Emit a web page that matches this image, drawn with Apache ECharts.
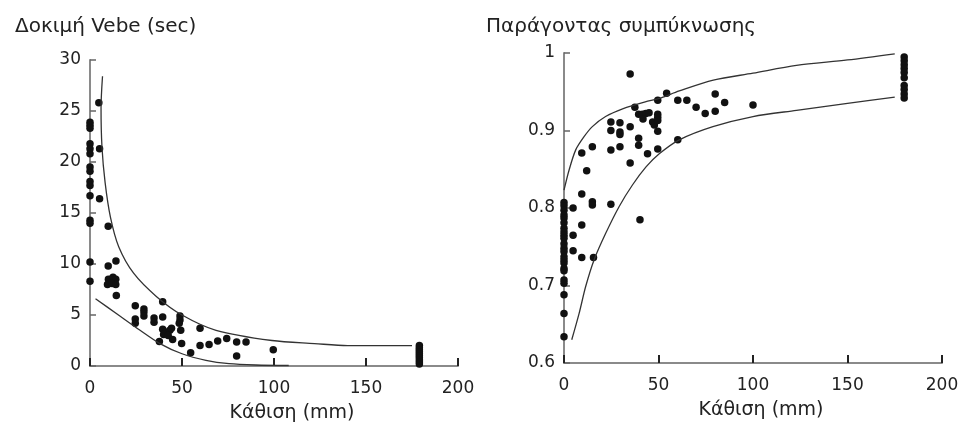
<!DOCTYPE html>
<html>
<head>
<meta charset="utf-8">
<script src="https://cdn.jsdelivr.net/npm/echarts@6/dist/echarts.min.js"></script>
<style>html,body{margin:0;padding:0;background:#fff}#c{width:962px;height:428px}</style>
</head>
<body>
<div id="c"></div>
<script>
// ---- Left panel: Vebe test (sec) vs slump (mm)
const vebeTitle = 'Δοκιμή Vebe (sec)';
const cfTitle = 'Παράγοντας συμπύκνωσης';
const slumpName = 'Κάθιση (mm)';
const xTicks = [0, 50, 100, 150, 200];
const vebeTicks = [0, 5, 10, 15, 20, 25, 30];
const cfTicks = [0.6, 0.7, 0.8, 0.9, 1];

const vebePoints = [
  [0,23.9],[0,23.6],[0,23.3],[0,21.8],[0,21.3],[0,20.8],[0,19.5],[0,19.1],[0,18.1],[0,17.7],[0,16.7],[0,14.3],[0,14.0],[0,10.2],[0,8.3],
  [4.8,25.8],[5.2,21.3],[5.2,16.4],[9.9,13.7],[9.9,9.8],[14.1,10.3],
  [10,8.5],[12.5,8.7],[14,8.5],[9.5,8.0],[12,8.1],[14,8.0],[14.3,6.9],
  [24.6,5.9],[24.6,4.6],[24.6,4.2],
  [29.3,5.6],[29.3,5.3],[29.3,4.9],
  [34.8,4.7],[34.8,4.3],
  [39.5,6.3],[39.5,4.8],[37.7,2.4],
  [39.5,3.6],[41.3,3.3],[43.4,3.5],[40,3.1],[42.5,3.0],[44.3,3.7],[44.9,2.6],
  [48.9,4.9],[48.9,4.5],[48.5,4.2],[49.3,3.5],[49.8,2.2],
  [54.7,1.3],[59.8,3.7],[59.8,2.0],[64.7,2.1],[69.4,2.45],[74.3,2.7],[79.7,2.35],[84.8,2.35],[79.7,0.98],[99.6,1.6],
  [179,2.0],[179,1.8],[179,1.6],[179,1.4],[179,1.2],[179,1.0],[179,0.8],[179,0.6],[179,0.4],[179,0.2]
];
const vebeUpper = [[6.8,28.4],[6.0,25.3],[6.5,21.5],[8.2,18.0],[11.1,14.6],[15.6,11.7],[23.7,9.1],[36.2,6.8],[50,5.0],[68.5,3.5],[98.9,2.5],[122,2.2],[140,2.0],[175,2.0]];
const vebeLower = [[3,6.6],[14.7,5.1],[27.2,3.5],[38,2.2],[50,1.2],[63,0.56],[75.6,0.23],[90,0.1],[108,0.05]];

// ---- Right panel: compacting factor vs slump (mm)
const cfPoints = [
  [0,0.807],[0,0.803],[0,0.797],[0,0.791],[0,0.787],[0,0.781],[0,0.774],[0,0.769],[0,0.765],[0,0.761],[0,0.754],[0,0.748],[0,0.744],[0,0.737],[0,0.733],[0,0.729],[0,0.722],[0,0.719],[0,0.707],[0,0.703],[0,0.688],[0,0.664],[0,0.634],
  [4.8,0.800],[4.8,0.765],[4.8,0.745],[9.4,0.871],[9.4,0.818],[9.4,0.778],[9.4,0.736],[12,0.848],[15,0.879],[15,0.808],[15,0.804],[15.6,0.736],
  [24.8,0.911],[24.8,0.900],[24.8,0.875],[24.8,0.805],[29.6,0.910],[29.6,0.898],[29.6,0.895],[29.6,0.879],
  [35,0.973],[35,0.905],[35,0.858],[37.5,0.930],[39.5,0.921],[41.5,0.921],[43.3,0.922],[45,0.923],[39.5,0.890],[39.5,0.881],[40.2,0.785],[41.8,0.915],[44.2,0.870],
  [46.9,0.911],[47.8,0.907],[49.6,0.921],[49.6,0.917],[49.6,0.913],[49.6,0.939],[49.6,0.899],[49.6,0.876],
  [54.3,0.948],[60.2,0.939],[60.2,0.888],[65,0.939],[69.9,0.930],[74.7,0.922],[80,0.947],[80,0.925],[85,0.936],[100,0.933],
  [180,0.995],[180,0.990],[180,0.985],[180,0.980],[180,0.975],[180,0.968],[180,0.958],[180,0.953],[180,0.947],[180,0.942]
];
const cfUpper = [[0,0.823],[2.7,0.849],[6.2,0.875],[10.6,0.892],[15,0.905],[22,0.918],[31,0.928],[43,0.937],[50,0.941],[61,0.951],[79,0.965],[100,0.974],[123,0.984],[150,0.991],[175,0.999]];
const cfLower = [[4.1,0.630],[8,0.664],[11.5,0.699],[15.9,0.733],[22,0.767],[29.2,0.802],[36.3,0.830],[43.4,0.853],[50.4,0.870],[61,0.888],[78.8,0.905],[100,0.918],[123,0.926],[150,0.935],[175,0.943]];

const FONT = 'DejaVu Sans';
const axisColor = '#8a8a8a';
const textColor = '#222';

function xAxisCfg(gi, shift) {
  return {
    type: 'value', gridIndex: gi, min: xTicks[0], max: xTicks[xTicks.length-1], interval: xTicks[1]-xTicks[0],
    name: slumpName, nameLocation: 'middle', nameGap: 38,
    nameTextStyle: {fontFamily: FONT, fontSize: 19, color: textColor, padding: [0,0,0,shift]},
    axisLine: {show: true, onZero: false, lineStyle: {color: axisColor, width: 2}},
    axisTick: {show: true, inside: true, length: 8, lineStyle: {color: '#222', width: 2}},
    axisLabel: {fontFamily: FONT, fontSize: 17, color: textColor, margin: 14},
    splitLine: {show: false}
  };
}
function yAxisCfg(gi, ticks) {
  return {
    type: 'value', gridIndex: gi, min: ticks[0], max: ticks[ticks.length-1],
    interval: +(ticks[1]-ticks[0]).toFixed(3),
    axisLine: {show: true, onZero: false, lineStyle: {color: axisColor, width: 2}},
    axisTick: {show: true, inside: true, length: 6, lineStyle: {color: '#666', width: 1.5}},
    axisLabel: {fontFamily: FONT, fontSize: 17, color: textColor, margin: 9,
      formatter: v => String(+v.toFixed(2))},
    splitLine: {show: false}
  };
}
const dot = {symbol: 'circle', symbolSize: 7.5, itemStyle: {color: '#111', opacity: 1}};
const lineStyle = {color: '#333', width: 1.3};

const chart = echarts.init(document.getElementById('c'), null, {renderer: 'canvas'});
chart.setOption({
  animation: false,
  title: [
    {text: vebeTitle, left: 10, top: 12, textStyle: {fontFamily: FONT, fontSize: 20, fontWeight: 'normal', color: textColor}},
    {text: cfTitle, left: 481, top: 12, textStyle: {fontFamily: FONT, fontSize: 20, fontWeight: 'normal', color: textColor}}
  ],
  grid: [
    {left: 90, top: 60, width: 368, height: 306},
    {left: 564, top: 53, width: 378, height: 310}
  ],
  xAxis: [xAxisCfg(0, 36), xAxisCfg(1, 16)],
  yAxis: [yAxisCfg(0, vebeTicks), yAxisCfg(1, cfTicks)],
  series: [
    Object.assign({type: 'scatter', xAxisIndex: 0, yAxisIndex: 0, data: vebePoints}, dot),
    {type: 'line', xAxisIndex: 0, yAxisIndex: 0, data: vebeUpper, smooth: 0.3, showSymbol: false, lineStyle: lineStyle},
    {type: 'line', xAxisIndex: 0, yAxisIndex: 0, data: vebeLower, smooth: 0.3, showSymbol: false, lineStyle: lineStyle},
    Object.assign({type: 'scatter', xAxisIndex: 1, yAxisIndex: 1, data: cfPoints}, dot),
    {type: 'line', xAxisIndex: 1, yAxisIndex: 1, data: cfUpper, smooth: 0.3, showSymbol: false, lineStyle: lineStyle},
    {type: 'line', xAxisIndex: 1, yAxisIndex: 1, data: cfLower, smooth: 0.3, showSymbol: false, lineStyle: lineStyle}
  ]
});
</script>
</body>
</html>
